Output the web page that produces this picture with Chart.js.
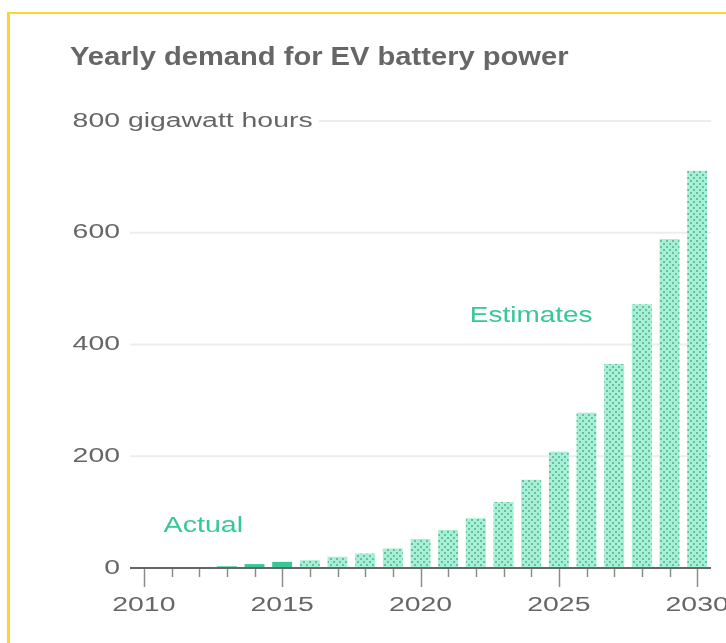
<!DOCTYPE html>
<html>
<head>
<meta charset="utf-8">
<script src="https://cdn.jsdelivr.net/npm/chart.js@4/dist/chart.umd.min.js"></script>
<style>
  html, body { margin: 0; padding: 0; background: #fff; overflow: hidden; }
  #frame {
    position: absolute; left: 7px; top: 12px; width: 760px; height: 700px;
    border-left: 3px solid #fbd630; border-top: 2px solid #fbd630;
  }
  #wrap { position: absolute; left: 0; top: 0; width: 726px; height: 643px; }
</style>
</head>
<body>
<div id="frame"></div>
<div id="wrap"><canvas id="chart"></canvas></div>
<script>
// Yearly demand for EV battery power, gigawatt hours
const years = ['2010','2011','2012','2013','2014','2015','2016','2017','2018','2019','2020',
               '2021','2022','2023','2024','2025','2026','2027','2028','2029','2030'];
const actualYears = ['2010','2011','2012','2013','2014','2015'];
const actualValues = [0.5, 1, 1.5, 3, 7, 11];
const estimateYears = ['2016','2017','2018','2019','2020','2021','2022','2023',
                       '2024','2025','2026','2027','2028','2029','2030'];
const estimateValues = [14, 20, 26, 35, 52, 68, 89, 118, 158, 208, 278, 365, 472, 589, 711];
const yTickValues = [0, 200, 400, 600, 800];
const xLabelYears = ['2010', '2015', '2020', '2025', '2030'];
const titleText = 'Yearly demand for EV battery power';
const unitText = 'gigawatt hours';

const GREEN = '#36c896';
const TEXT = '#666666';
const LABEL_FONT = '20px "Liberation Sans", Arial, sans-serif';

// align each series to the full year list
const actualSeries = years.map(y => { const i = actualYears.indexOf(y); return i < 0 ? null : actualValues[i]; });
const estimateSeries = years.map(y => { const i = estimateYears.indexOf(y); return i < 0 ? null : estimateValues[i]; });

// speckled fill for projected years
function makeDots() {
  const c = document.createElement('canvas');
  c.width = 6; c.height = 6;
  const g = c.getContext('2d');
  g.fillStyle = '#a4f2d6';
  g.fillRect(0, 0, 6, 6);
  g.fillStyle = '#62a68e';
  g.beginPath(); g.arc(1, 1, 1.0, 0, Math.PI * 2); g.fill();
  g.beginPath(); g.arc(4, 4, 1.0, 0, Math.PI * 2); g.fill();
  return g.createPattern(c, 'repeat');
}

function stretchedText(ctx, text, x, y, align, sx) {
  ctx.save();
  ctx.translate(x, y);
  ctx.scale(sx, 1);
  ctx.textAlign = align;
  ctx.fillText(text, 0, 0);
  ctx.restore();
}

const axesPlugin = {
  id: 'axesDecor',
  beforeDatasetsDraw(chart) {
    const { ctx, chartArea, scales } = chart;
    const y = scales.y;
    ctx.save();
    ctx.font = LABEL_FONT;
    const sx = 1.42;
    const labelRight = 120;
    const w800 = ctx.measureText('800').width * sx;
    const unitEnd = labelRight - w800 + ctx.measureText('800 ' + unitText).width * sx;
    ctx.strokeStyle = '#ededed';
    ctx.lineWidth = 2;
    yTickValues.forEach(v => {
      if (v === 0) return;
      const py = y.getPixelForValue(v);
      const x0 = v === 800 ? unitEnd + 6 : chartArea.left;
      ctx.beginPath(); ctx.moveTo(x0, py); ctx.lineTo(chartArea.right, py); ctx.stroke();
    });
    ctx.restore();
  },
  afterDatasetsDraw(chart) {
    const { ctx, chartArea, scales } = chart;
    const x = scales.x, y = scales.y;
    const base = y.getPixelForValue(0);
    ctx.save();
    // tick marks
    ctx.strokeStyle = '#8c8c8c';
    ctx.lineWidth = 1.5;
    years.forEach((yr, i) => {
      const px = Math.round(x.getPixelForValue(i)) + 0.5;
      const major = xLabelYears.includes(yr);
      ctx.beginPath(); ctx.moveTo(px, base); ctx.lineTo(px, base + (major ? 19 : 9)); ctx.stroke();
    });
    // baseline
    ctx.strokeStyle = '#666';
    ctx.lineWidth = 2;
    ctx.beginPath(); ctx.moveTo(chartArea.left, base); ctx.lineTo(chartArea.right, base); ctx.stroke();

    // y labels
    const sx = 1.42;
    const labelRight = 120;
    ctx.font = LABEL_FONT;
    ctx.fillStyle = TEXT;
    ctx.textBaseline = 'middle';
    yTickValues.forEach(v => {
      const py = y.getPixelForValue(v);
      if (v === 800) {
        const w = ctx.measureText('800').width * sx;
        stretchedText(ctx, '800 ' + unitText, labelRight - w, py, 'left', sx);
      } else {
        stretchedText(ctx, String(v), labelRight, py, 'right', sx);
      }
    });
    // x labels
    xLabelYears.forEach(yr => {
      const px = x.getPixelForValue(years.indexOf(yr));
      stretchedText(ctx, yr, px, 605, 'center', sx);
    });

    // series notes
    ctx.font = '22px "Liberation Sans", Arial, sans-serif';
    ctx.fillStyle = GREEN;
    stretchedText(ctx, 'Actual', x.getPixelForValue(2.15), y.getPixelForValue(75), 'center', 1.3);
    stretchedText(ctx, 'Estimates', x.getPixelForValue(14), y.getPixelForValue(451), 'center', 1.27);

    // title
    ctx.font = 'bold 25px "Liberation Sans", Arial, sans-serif';
    ctx.fillStyle = TEXT;
    ctx.textBaseline = 'alphabetic';
    stretchedText(ctx, titleText, 70, 65, 'left', 1.165);
    ctx.restore();
  }
};

new Chart(document.getElementById('chart'), {
  type: 'bar',
  data: {
    labels: years,
    datasets: [
      { label: 'Actual', data: actualSeries, backgroundColor: GREEN,
        grouped: false, barPercentage: 0.72, categoryPercentage: 1, borderWidth: 0 },
      { label: 'Estimates', data: estimateSeries, backgroundColor: makeDots(),
        grouped: false, barPercentage: 0.72, categoryPercentage: 1, borderWidth: 0 }
    ]
  },
  options: {
    responsive: true,
    maintainAspectRatio: false,
    animation: false,
    layout: { padding: { left: 130, right: 15, top: 121, bottom: 75 } },
    plugins: { legend: { display: false }, tooltip: { enabled: false }, title: { display: false } },
    scales: {
      x: { display: false, offset: true },
      y: { display: false, min: 0, max: 800 }
    }
  },
  plugins: [axesPlugin]
});
</script>
</body>
</html>
